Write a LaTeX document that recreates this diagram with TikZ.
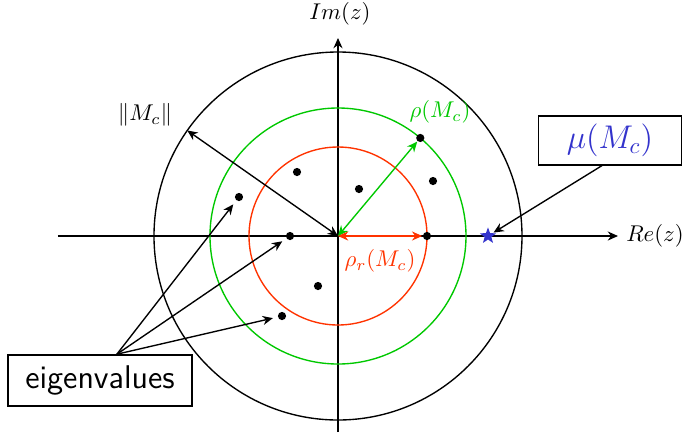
\documentclass[tikz,border=0pt]{standalone}
\usetikzlibrary{arrows.meta,shapes.geometric}

\definecolor{rhored}{RGB}{255,51,0}
\definecolor{rhogreen}{RGB}{0,200,0}
\definecolor{mublue}{RGB}{51,51,204}

\tikzset{
  eigdot/.style={circle,fill=black,inner sep=0pt,minimum size=3.6pt},
  tipend/.style={-{Stealth[length=4.5pt,width=4pt]}},
  tipboth/.style={{Stealth[length=4.5pt,width=4pt]}-{Stealth[length=4.5pt,width=4pt]}},
  tagbox/.style={draw,rectangle,inner sep=2pt}
}

\begin{document}
\begin{tikzpicture}[x=0.617cm,y=0.617cm,semithick]
        \useasboundingbox (-8.45,-4.95) rectangle (8.625,5.9);

        % osy
        \coordinate (O) at (0,0);
        \coordinate (ReL) at (-7,0);
        \coordinate (ReR) at (7,0);
        \coordinate (ImB) at (0,-4.9);
        \coordinate (ImT) at (0,4.95);
        \draw[tipend] (ReL) -- (ReR) node[right] {$Re(z)$};
        \draw[tipend] (ImB) -- (ImT);
        \node at (0.05,5.55) {$Im(z)$};

        % kruznice
        \draw (O) circle (4.6);
        \draw[rhogreen] (O) circle (3.2);
        \draw[rhored] (O) circle (2.225);

        % vlastni cisla
        \node[eigdot] (l1) at (-1.025,1.6) {};
        \node[eigdot] (l2) at (0.525,1.175) {};
        \node[eigdot] (l3) at (2.375,1.375) {};
        \node[eigdot] (l4) at (50:3.2) {};
        \node[eigdot] (l5) at (-2.475,0.975) {};
        \node[eigdot] (l6) at (-1.2,0) {};
        \node[eigdot] (l7) at (2.225,0) {};
        \node[eigdot] (l8) at (-0.5,-1.25) {};
        \node[eigdot] (l9) at (-1.4,-2.0) {};

        % norma
        \coordinate (N) at (145:4.6);
        \draw[tipboth] (O) -- (N);
        \node at (-4.825,3.025) {$\|M_c\|$};

        % spektralni polomery
        \draw[tipboth,rhogreen] (O) -- (l4);
        \node[text=rhogreen] at (2.55,3.1) {$\rho(M_c)$};
        \draw[tipboth,rhored] (O) -- (l7);
        \node[text=rhored] at (1.05,-0.625) {$\rho_r(M_c)$};

        % mu
        \node[star,star points=5,star point ratio=2.4,fill=mublue,inner sep=0pt,minimum size=7.5pt] (st) at (3.75,0) {};
        \node[tagbox,minimum width=63pt,minimum height=21.5pt,text=mublue,font=\Large] (mu) at (6.8,2.39) {$\mu(M_c)$};
        \coordinate (muS) at ([xshift=-3.5pt]mu.south);
        \draw[tipend] (muS) -- (st);

        % popisek
        \node[tagbox,minimum width=80.7pt,minimum height=22.4pt,font=\sffamily\Large] (eig) at (-5.95,-3.61) {eigenvalues};
        \coordinate (eigN) at ([xshift=7.4pt]eig.north);
        \draw[tipend,shorten >=2pt] (eigN) -- (l5);
        \draw[tipend,shorten >=2pt] (eigN) -- (l6);
        \draw[tipend,shorten >=2pt] (eigN) -- (l9);

\end{tikzpicture}
\end{document}
